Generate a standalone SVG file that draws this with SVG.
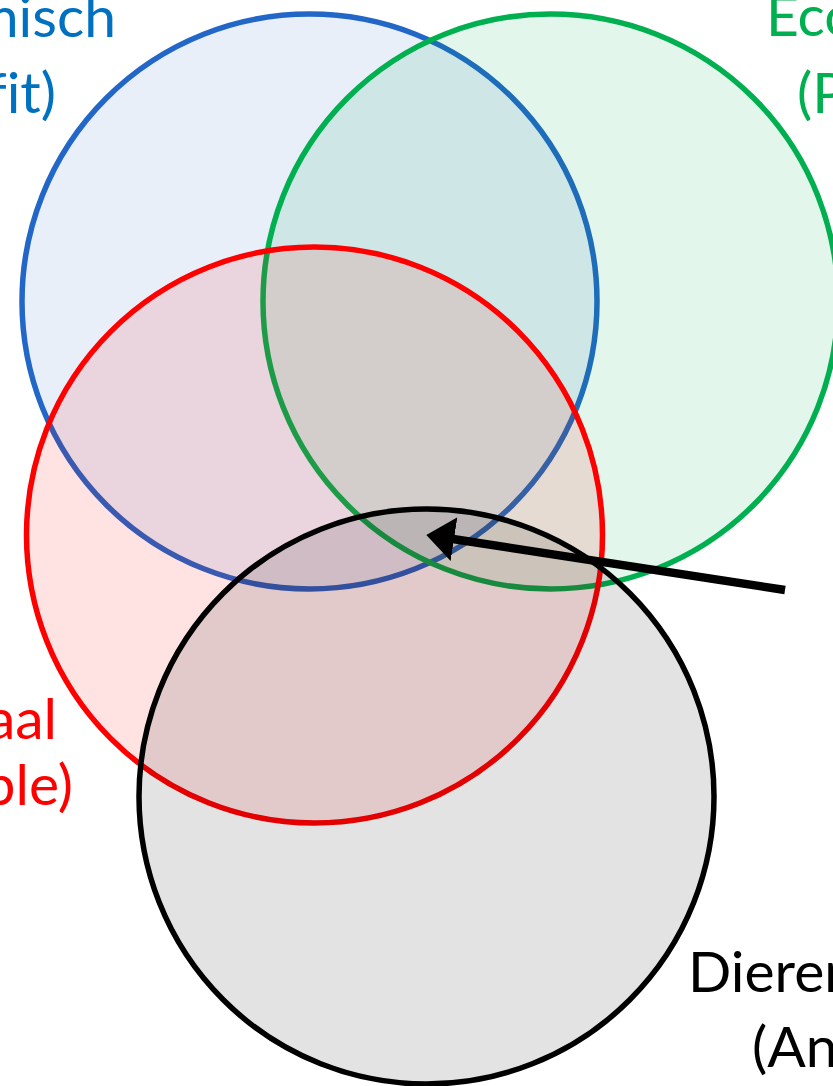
<svg xmlns="http://www.w3.org/2000/svg" width="833" height="1086" viewBox="0 0 833 1086">
<style>
.c{stroke-width:5.5}
.t{font-family:Lato,"Liberation Sans",sans-serif;font-size:57px;font-variant-ligatures:none}
</style>
<defs>
<marker id="ah" markerUnits="userSpaceOnUse" viewBox="0 0 28 44" refX="1" refY="22" markerWidth="28" markerHeight="44" orient="auto">
<path d="M0,0 L28,22 L0,44 z" fill="#000"/>
</marker>
</defs>
<rect width="833" height="1086" fill="#fff"/>
<g id="economisch">
<circle class="c" cx="309.5" cy="301.5" r="287.5" fill="#2266c8" fill-opacity="0.1" stroke="#2266c8"/>
<text class="t" x="116" y="37" text-anchor="end" fill="#0070c0">misch</text>
<text class="t" x="56" y="113" text-anchor="end" fill="#0070c0">fit)</text>
</g>
<g id="ecologisch">
<circle class="c" cx="550.5" cy="301.5" r="287.5" fill="#00b050" fill-opacity="0.11" stroke="#00b050"/>
<text class="t" x="766" y="36" fill="#00b050">Eco</text>
<text class="t" x="797" y="113" fill="#00b050">(P</text>
</g>
<g id="sociaal">
<circle class="c" cx="314.5" cy="535" r="288" fill="#ff0000" fill-opacity="0.11" stroke="#ff0000"/>
<text class="t" x="57" y="739" text-anchor="end" fill="#ff0000">aal</text>
<text class="t" x="73" y="805" text-anchor="end" fill="#ff0000">ble)</text>
</g>
<g id="dierenwelzijn">
<circle class="c" cx="426.5" cy="796.5" r="287.5" fill="#000" fill-opacity="0.11" stroke="#000"/>
<text class="t" x="688" y="992" fill="#000">Dieren</text>
<text class="t" x="752" y="1067" fill="#000">(An</text>
</g>
<g id="connectors">
<line x1="785" y1="590" x2="453" y2="539" stroke="#000" stroke-width="8.5" marker-end="url(#ah)"/>
</g>
</svg>
